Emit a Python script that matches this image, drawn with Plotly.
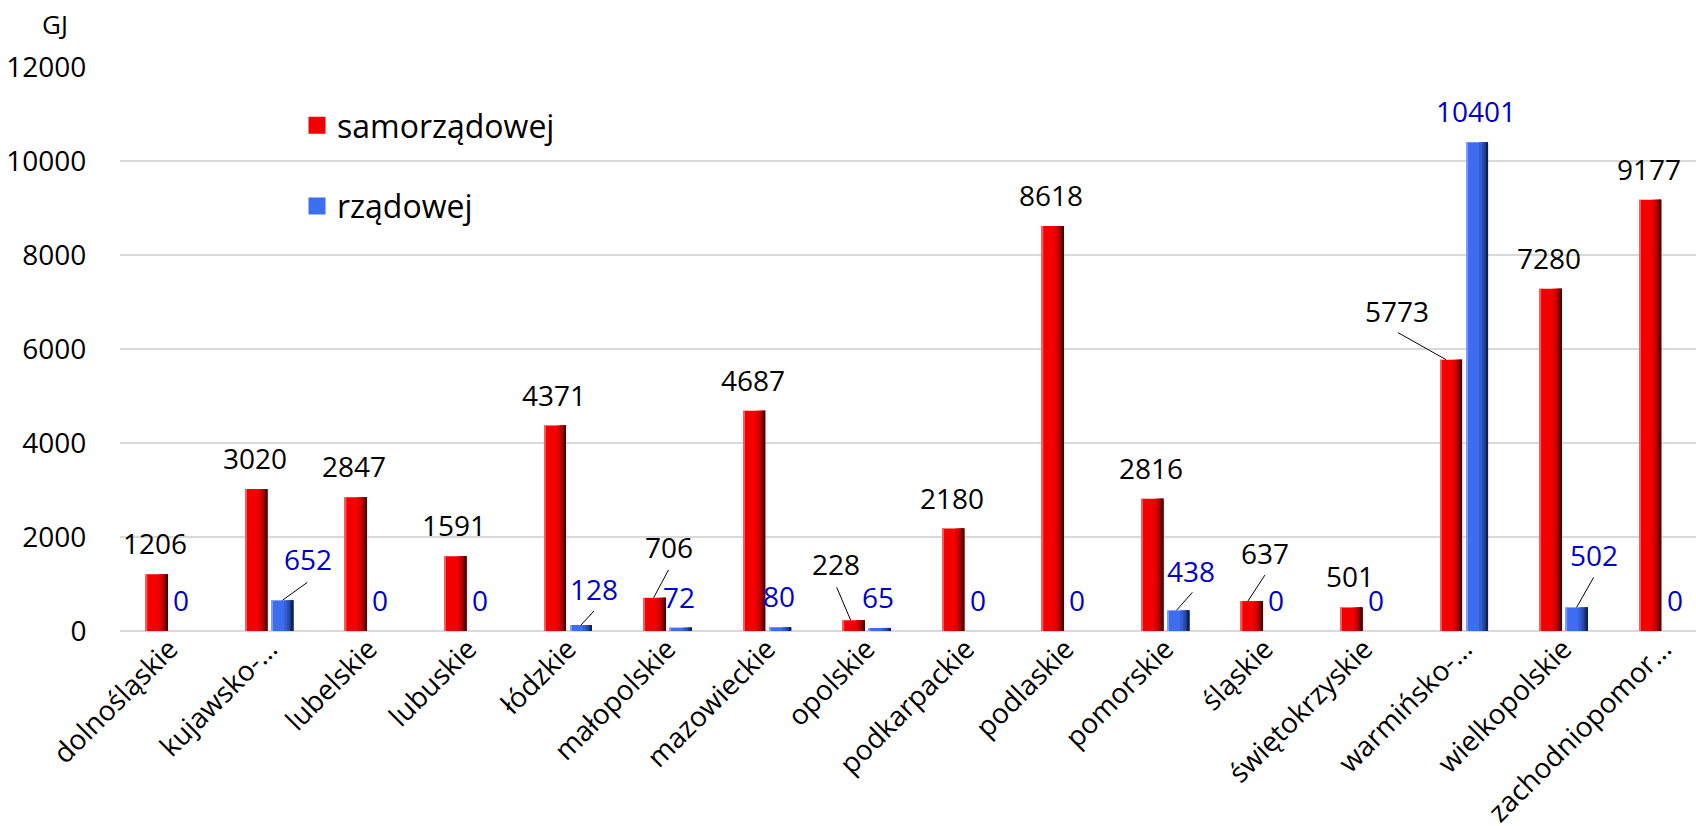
import plotly.graph_objects as go

# Regions (voivodeships) on the category axis
regions = [
    "dolnośląskie", "kujawsko-pomorskie", "lubelskie", "lubuskie", "łódzkie",
    "małopolskie", "mazowieckie", "opolskie", "podkarpackie", "podlaskie",
    "pomorskie", "śląskie", "świętokrzyskie", "warmińsko-mazurskie",
    "wielkopolskie", "zachodniopomorskie",
]
tick_labels = [
    "dolnośląskie", "kujawsko-…", "lubelskie", "lubuskie", "łódzkie",
    "małopolskie", "mazowieckie", "opolskie", "podkarpackie", "podlaskie",
    "pomorskie", "śląskie", "świętokrzyskie", "warmińsko-…",
    "wielkopolskie", "zachodniopomor…",
]

# Energy in GJ
samorzadowej = [1206, 3020, 2847, 1591, 4371, 706, 4687, 228, 2180, 8618, 2816, 637, 501, 5773, 7280, 9177]
rzadowej = [0, 652, 0, 0, 128, 72, 80, 65, 0, 0, 438, 0, 0, 10401, 502, 0]

y_ticks = [0, 2000, 4000, 6000, 8000, 10000, 12000]

# ---- geometry / styling --------------------------------------------------
W, H = 1696, 826
M_L, M_R, M_T, M_B = 120, 0, 67, 195
X_RANGE = [-0.5, 15.33]
PX = (W - M_L - M_R) / (X_RANGE[1] - X_RANGE[0])   # pixels per category


def u(px):
    """pixel distance -> category-axis units"""
    return px / PX


BAR_W = 22          # bar width in px
NUM_FONT = "Open Sans"
LABEL_SIZE = 28

series = [
    dict(name="samorządowej", values=samorzadowej, center=-13, label_color="#000000",
         base="#F50000", light="#FF5A5A",
         shades=[(2, "#DD0000"), (5, "#B40000"), (7.5, "#860000"), (9.5, "#4E0000")]),
    dict(name="rządowej", values=rzadowej, center=13, label_color="#0000CC",
         base="#3D6EF2", light="#7C9DFF",
         shades=[(2, "#335ED6"), (5, "#284CAE"), (7.5, "#1D3882"), (9.5, "#11224F")]),
]

# label placement (px, screen coords relative to bar top-centre) and leader lines
DEFAULT_OFF = (-1.5, -30)
label_off = {
    ("rządowej", 1): (25.5, -40), ("rządowej", 4): (12.7, -35),
    ("samorządowej", 5): (14.7, -49.6), ("samorządowej", 7): (-17.3, -55.3),
    ("rządowej", 10): (13, -38.7), ("samorządowej", 11): (12.8, -47),
    ("samorządowej", 13): (-53.7, -47.6), ("rządowej", 14): (17.3, -51.7),
}
leaders = {
    ("rządowej", 1): ((0, 0), (25, -18)), ("rządowej", 4): ((0, 0), (13, -14)),
    ("samorządowej", 5): ((-1, 0), (14, -28)), ("samorządowej", 7): ((-3, 0), (-17, -33)),
    ("rządowej", 10): ((-2, 0), (14, -18)), ("samorządowej", 11): ((-4, 0), (13, -26)),
    ("samorządowej", 13): ((-5, 0), (-53, -27)), ("rządowej", 14): ((0, 0), (17, -30)),
}

fig = go.Figure()

for s in series:
    left = s["center"] - BAR_W / 2
    # legend swatch for the series (larger square via a same-colour outline)
    fig.add_trace(go.Bar(
        x=[None], y=[None], name=s["name"], legendgroup=s["name"],
        marker=dict(color=s["base"], line=dict(width=9, color=s["base"])),
        hoverinfo="skip",
    ))
    # main bar body
    fig.add_trace(go.Bar(
        x=regions, y=s["values"], name=s["name"], legendgroup=s["name"], showlegend=False,
        marker=dict(color=s["base"], line=dict(width=0)),
        offset=u(left), width=u(BAR_W), hoverinfo="x+y",
    ))
    # thin highlight on the left edge
    fig.add_trace(go.Bar(
        x=regions, y=s["values"], legendgroup=s["name"], showlegend=False, hoverinfo="skip",
        marker=dict(color=s["light"], line=dict(width=0)),
        offset=u(left), width=u(1.5),
    ))
    # darkening towards the right edge
    for start, col in s["shades"]:
        fig.add_trace(go.Bar(
            x=regions, y=s["values"], legendgroup=s["name"], showlegend=False, hoverinfo="skip",
            marker=dict(color=col, line=dict(width=0)),
            offset=u(s["center"] + start), width=u(BAR_W / 2 - start),
        ))

annotations = []
shapes = []
for s in series:
    for i, v in enumerate(s["values"]):
        key = (s["name"], i)
        dx, dy = label_off.get(key, DEFAULT_OFF)
        annotations.append(dict(
            x=i, y=v, xref="x", yref="y", text=str(v), showarrow=False,
            xanchor="center", yanchor="middle",
            xshift=s["center"] + dx, yshift=-dy + 1,
            font=dict(family=NUM_FONT, size=LABEL_SIZE, color=s["label_color"]),
        ))
        if key in leaders:
            (x0, y0), (x1, y1) = leaders[key]
            shapes.append(dict(
                type="line", xref="x", yref="y",
                xsizemode="pixel", ysizemode="pixel",
                xanchor=i, yanchor=v,
                x0=s["center"] + x0, x1=s["center"] + x1, y0=-y0, y1=-y1,
                line=dict(color="#000000", width=1),
            ))

# unit above the value axis
annotations.append(dict(
    x=0, y=1, xref="paper", yref="paper", xshift=-65, yshift=43,
    xanchor="center", yanchor="middle",
    text="GJ", showarrow=False,
    font=dict(family=NUM_FONT, size=LABEL_SIZE - 2, color="#000000"),
))

fig.update_layout(
    width=W, height=H,
    margin=dict(l=M_L, r=M_R, t=M_T, b=M_B, pad=0, autoexpand=False),
    barmode="overlay",
    plot_bgcolor="#FFFFFF", paper_bgcolor="#FFFFFF",
    font=dict(family=NUM_FONT, color="#000000"),
    legend=dict(
        x=(297 - M_L) / (W - M_L - M_R), xanchor="left",
        y=1 - (98 - M_T) / (H - M_T - M_B), yanchor="top",
        font=dict(family=NUM_FONT, size=32, color="#000000"),
        bgcolor="rgba(0,0,0,0)", tracegroupgap=36, traceorder="grouped",
    ),
    xaxis=dict(
        range=X_RANGE, autorange=False, type="category", automargin=False,
        tickmode="array", tickvals=regions, ticktext=tick_labels,
        tickangle=-45, ticks="", ticklabelstandoff=-5,
        showgrid=False, showline=False, zeroline=False,
        tickfont=dict(family=NUM_FONT, size=28, color="#000000"),
    ),
    yaxis=dict(
        range=[0, 12000], autorange=False, automargin=False,
        tickmode="array", tickvals=y_ticks, ticktext=[str(v) for v in y_ticks],
        ticks="outside", ticklen=27, tickcolor="rgba(0,0,0,0)",
        showgrid=True, gridcolor="#D9D9D9", gridwidth=1.5,
        zeroline=True, zerolinecolor="#D9D9D9", zerolinewidth=2,
        showline=False,
        tickfont=dict(family=NUM_FONT, size=LABEL_SIZE, color="#000000"),
    ),
    annotations=annotations,
    shapes=shapes,
    showlegend=True,
)

fig.write_html("out.html")
